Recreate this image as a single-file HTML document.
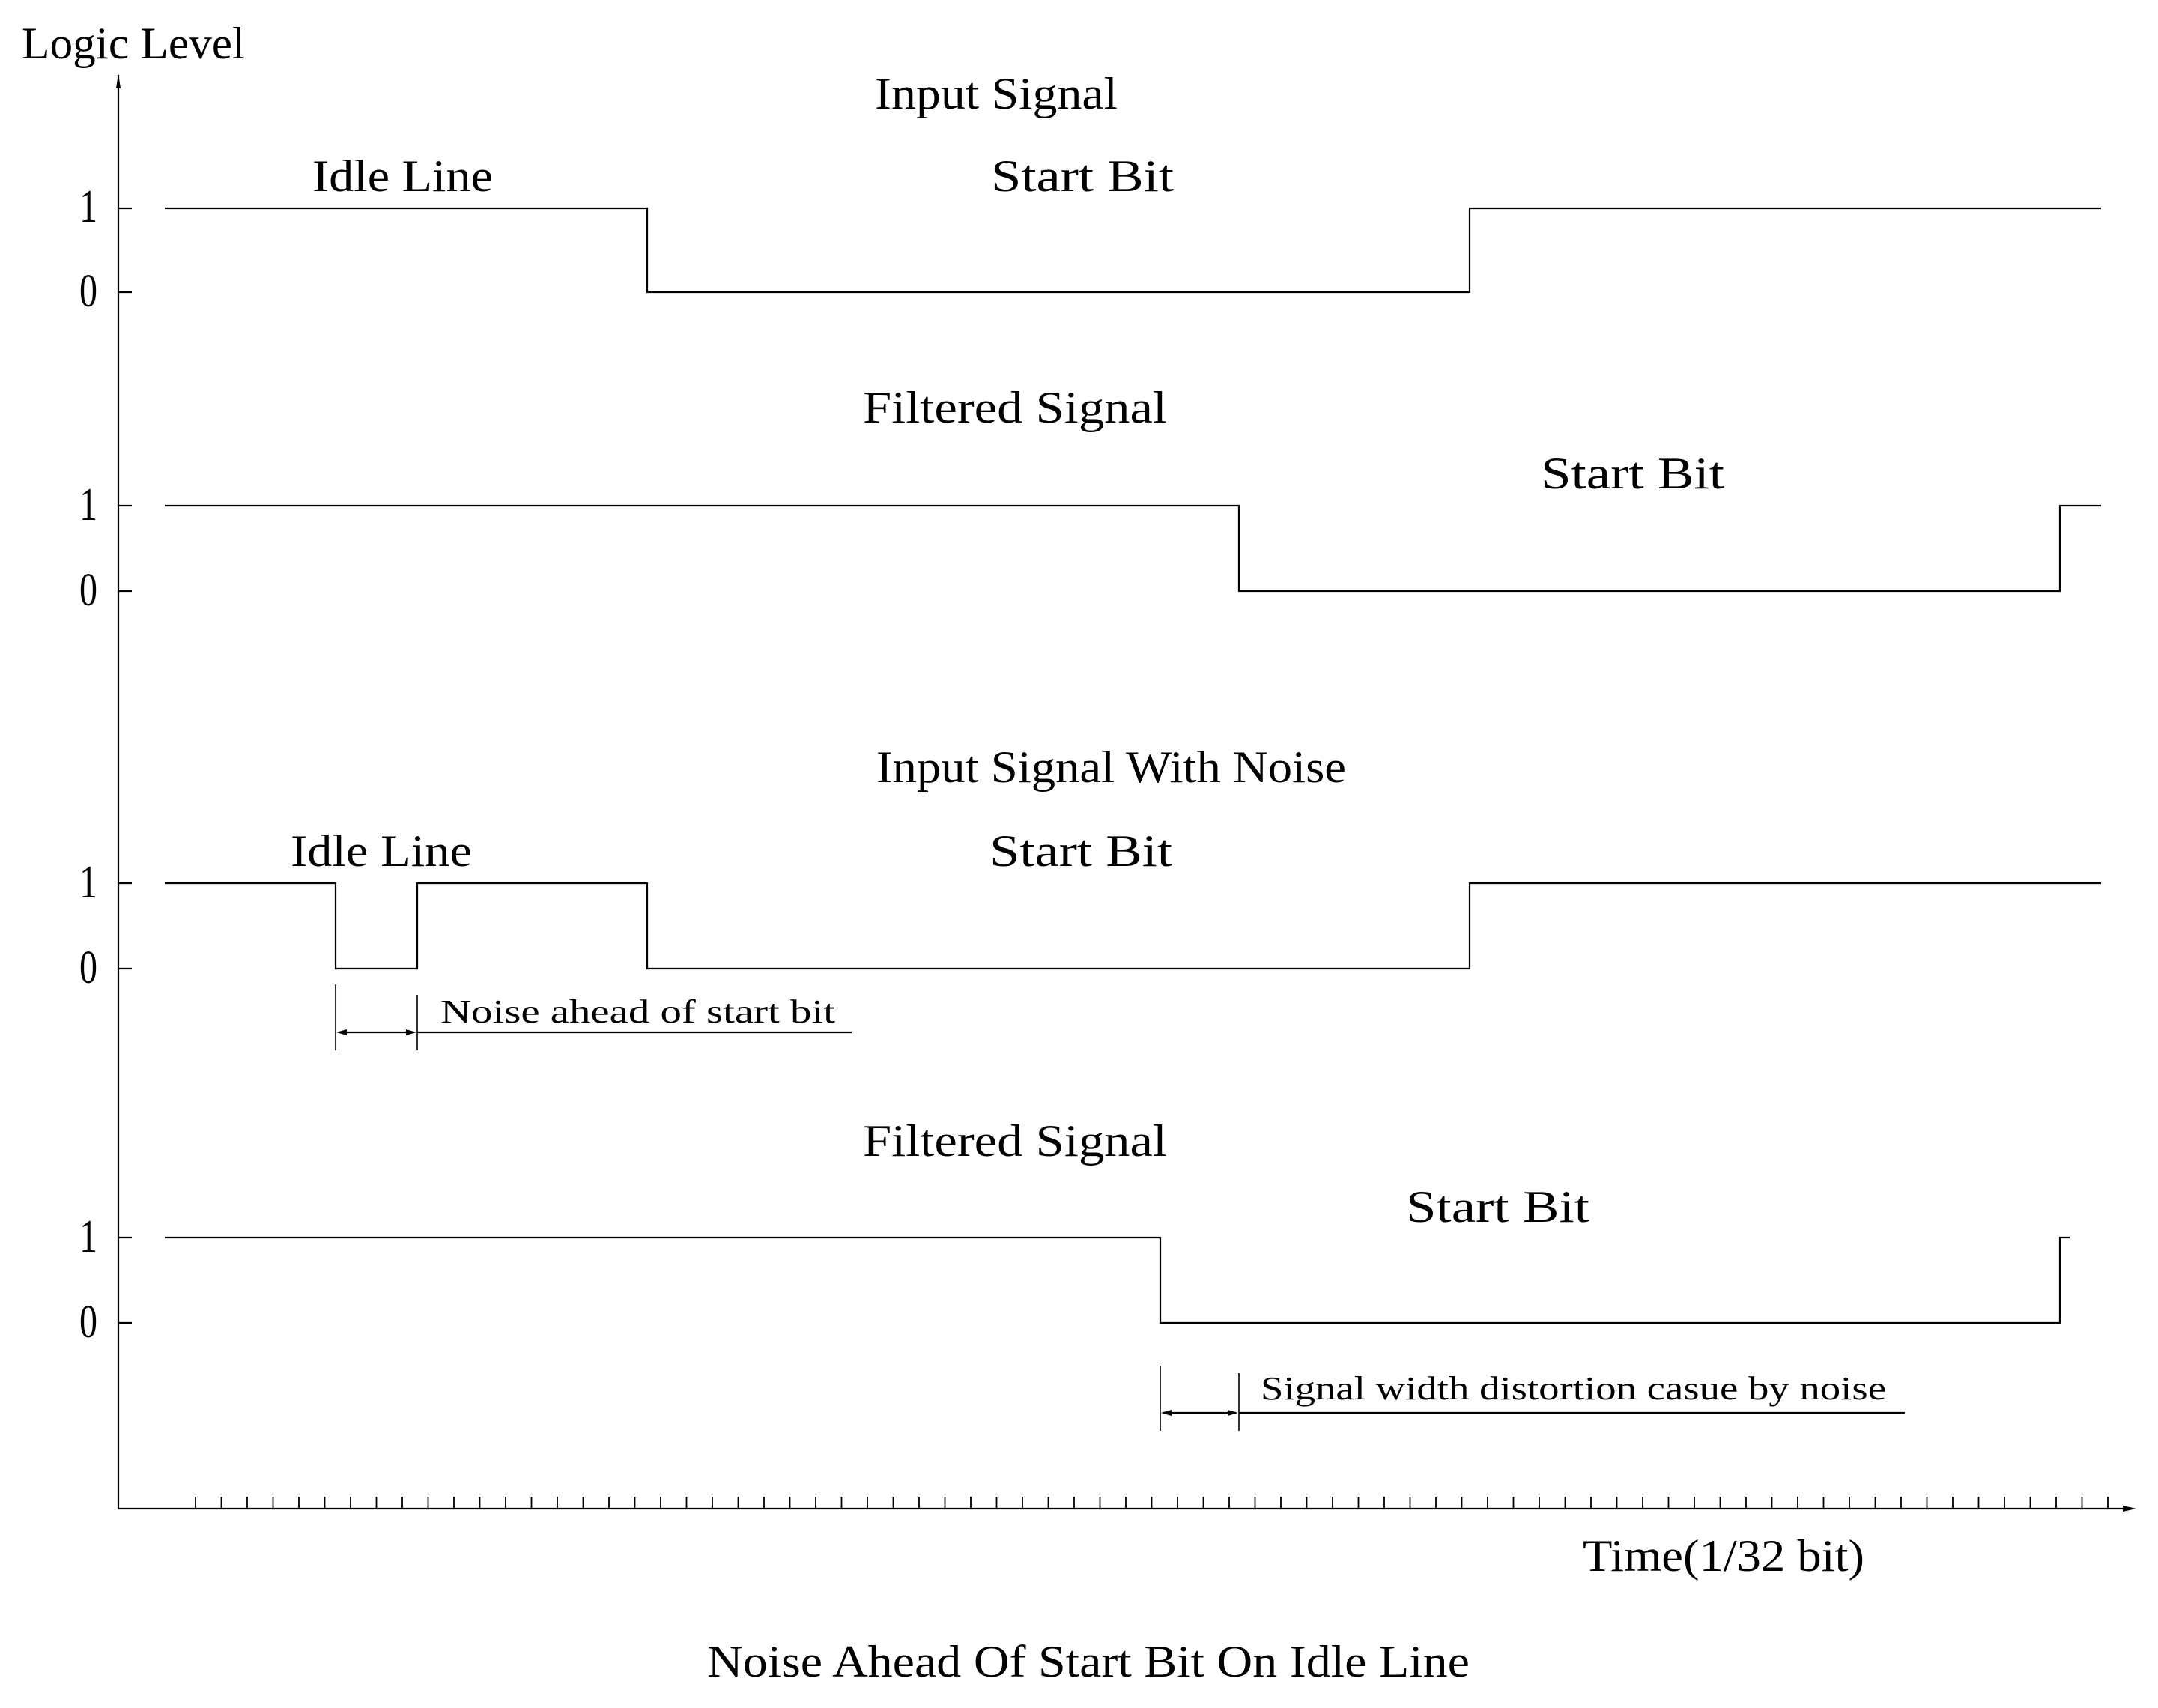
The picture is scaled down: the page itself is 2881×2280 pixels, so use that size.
<!DOCTYPE html>
<html><head><meta charset="utf-8"><style>html,body{margin:0;padding:0;background:#fff}svg{display:block}</style></head>
<body>
<svg width="2881" height="2280" viewBox="0 0 2881 2280" xmlns="http://www.w3.org/2000/svg" font-family="'Liberation Serif', serif" fill="#000">
<g stroke="#000" fill="none" stroke-width="2.2">
<line x1="158" y1="100" x2="158" y2="2014"/>
<line x1="158" y1="2014" x2="2845" y2="2014"/>
<path d="M158 278H176M158 390H176M158 675H176M158 789H176M158 1179H176M158 1293H176M158 1652H176M158 1766H176"/>
<path d="M220 278H864V390H1962V278H2805"/>
<path d="M220 675H1654V789H2750V675H2805"/>
<path d="M220 1179H448V1293H557V1179H864V1293H1962V1179H2805"/>
<path d="M220 1652H1549V1766H2750V1652H2763"/>
<g stroke-width="1.6">
<path d="M448 1314V1402M557 1328V1402M1549 1823V1910M1654 1833V1910"/>
</g>
<path d="M452 1378H553M557 1378H1137M1553 1886H1650M1654 1886H2543"/>
<path stroke-width="1.8" d="M261 1998V2014M295.5 1998V2014M330 1998V2014M364.5 1998V2014M399 1998V2014M433.5 1998V2014M468 1998V2014M502.5 1998V2014M537 1998V2014M571.5 1998V2014M606 1998V2014M640.5 1998V2014M675 1998V2014M709.5 1998V2014M744 1998V2014M778.5 1998V2014M813 1998V2014M847.5 1998V2014M882 1998V2014M916.5 1998V2014M951 1998V2014M985.5 1998V2014M1020 1998V2014M1054.5 1998V2014M1089 1998V2014M1123.5 1998V2014M1158 1998V2014M1192.5 1998V2014M1227 1998V2014M1261.5 1998V2014M1296 1998V2014M1330.5 1998V2014M1365 1998V2014M1399.5 1998V2014M1434 1998V2014M1468.5 1998V2014M1503 1998V2014M1537.5 1998V2014M1572 1998V2014M1606.5 1998V2014M1641 1998V2014M1675.5 1998V2014M1710 1998V2014M1744.5 1998V2014M1779 1998V2014M1813.5 1998V2014M1848 1998V2014M1882.5 1998V2014M1917 1998V2014M1951.5 1998V2014M1986 1998V2014M2020.5 1998V2014M2055 1998V2014M2089.5 1998V2014M2124 1998V2014M2158.5 1998V2014M2193 1998V2014M2227.5 1998V2014M2262 1998V2014M2296.5 1998V2014M2331 1998V2014M2365.5 1998V2014M2400 1998V2014M2434.5 1998V2014M2469 1998V2014M2503.5 1998V2014M2538 1998V2014M2572.5 1998V2014M2607 1998V2014M2641.5 1998V2014M2676 1998V2014M2710.5 1998V2014M2745 1998V2014M2779.5 1998V2014M2814 1998V2014"/>
</g>
<g stroke="none">
<polygon points="158,98 155,118 161,118"/>
<polygon points="2852,2014 2834,2010 2834,2018"/>
<polygon points="449,1378 463,1374 463,1382"/>
<polygon points="556,1378 542,1374 542,1382"/>
<polygon points="1550,1886 1564,1882 1564,1890"/>
<polygon points="1653,1886 1639,1882 1639,1890"/>
</g>
<g font-size="60">
<text x="29" y="78" textLength="298" lengthAdjust="spacingAndGlyphs">Logic Level</text>
<text x="1168" y="145" textLength="324" lengthAdjust="spacingAndGlyphs">Input Signal</text>
<text x="417" y="255" textLength="241" lengthAdjust="spacingAndGlyphs">Idle Line</text>
<text x="1323" y="255" textLength="244" lengthAdjust="spacingAndGlyphs">Start Bit</text>
<text x="1152" y="564" textLength="406" lengthAdjust="spacingAndGlyphs">Filtered Signal</text>
<text x="2057" y="652" textLength="245" lengthAdjust="spacingAndGlyphs">Start Bit</text>
<text x="1170" y="1044" textLength="627" lengthAdjust="spacingAndGlyphs">Input Signal With Noise</text>
<text x="388" y="1156" textLength="242" lengthAdjust="spacingAndGlyphs">Idle Line</text>
<text x="1321" y="1156" textLength="244" lengthAdjust="spacingAndGlyphs">Start Bit</text>
<text x="1152" y="1543" textLength="406" lengthAdjust="spacingAndGlyphs">Filtered Signal</text>
<text x="1877" y="1631" textLength="245" lengthAdjust="spacingAndGlyphs">Start Bit</text>
<text x="2113" y="2097" textLength="376" lengthAdjust="spacingAndGlyphs">Time(1/32 bit)</text>
<text x="944" y="2238" textLength="1018" lengthAdjust="spacingAndGlyphs">Noise Ahead Of Start Bit On Idle Line</text>
</g>
<g font-size="62">
<text x="106" y="296" textLength="24" lengthAdjust="spacingAndGlyphs">1</text><text x="106" y="409" textLength="24" lengthAdjust="spacingAndGlyphs">0</text>
<text x="106" y="694" textLength="24" lengthAdjust="spacingAndGlyphs">1</text><text x="106" y="808" textLength="24" lengthAdjust="spacingAndGlyphs">0</text>
<text x="106" y="1198" textLength="24" lengthAdjust="spacingAndGlyphs">1</text><text x="106" y="1312" textLength="24" lengthAdjust="spacingAndGlyphs">0</text>
<text x="106" y="1671" textLength="24" lengthAdjust="spacingAndGlyphs">1</text><text x="106" y="1785" textLength="24" lengthAdjust="spacingAndGlyphs">0</text>
</g>
<g font-size="44">
<text x="588" y="1365" textLength="527" lengthAdjust="spacingAndGlyphs">Noise ahead of start bit</text>
<text x="1683" y="1868" textLength="835" lengthAdjust="spacingAndGlyphs">Signal width distortion casue by noise</text>
</g>
</svg>
</body></html>
